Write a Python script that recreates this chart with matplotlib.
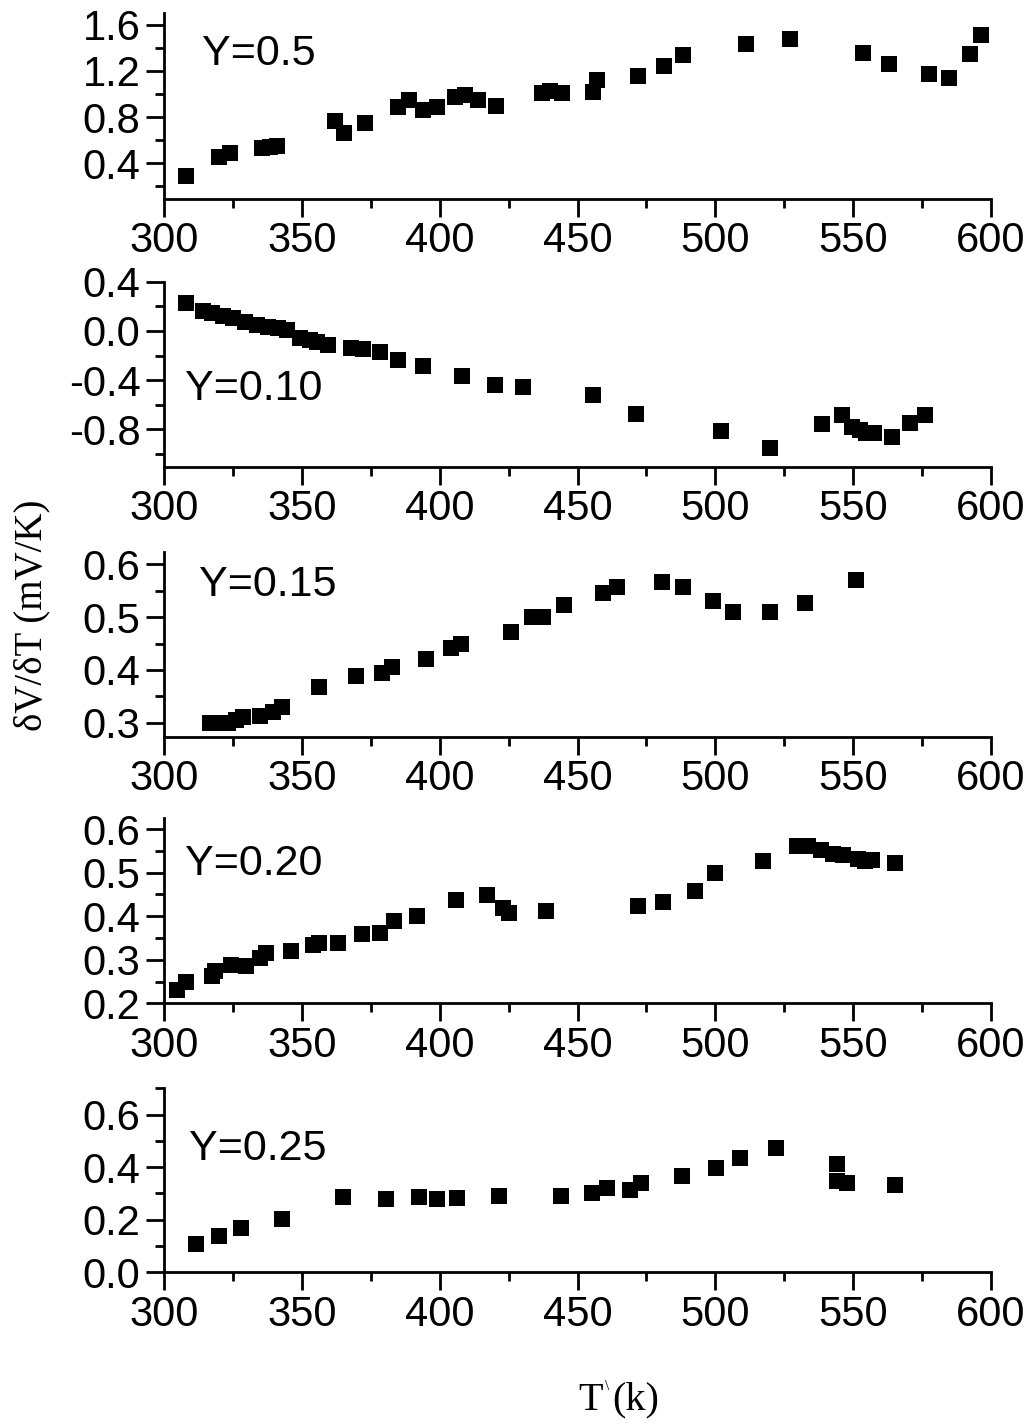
import matplotlib
matplotlib.use("Agg")
import matplotlib.pyplot as plt
from matplotlib.ticker import MultipleLocator, FormatStrFormatter
from matplotlib import font_manager

# 数据：每个面板 T(K) 与 δV/δT (mV/K)
t_05 = [307.9, 320, 324, 335.4, 338.5, 340.9, 362, 365.3, 372.9, 385, 389, 394, 399,
        405.5, 409.2, 414, 420.4, 437, 440, 444.2, 455.5, 456.9, 472, 481.5, 488.4,
        511, 527, 553.6, 563, 577.6, 584.6, 592.5, 596.2]
v_05 = [0.29, 0.457, 0.49, 0.53, 0.54, 0.55, 0.77, 0.665, 0.75, 0.89, 0.95, 0.86, 0.885,
        0.97, 0.99, 0.95, 0.90, 1.005, 1.03, 1.005, 1.02, 1.12, 1.154, 1.24, 1.337,
        1.43, 1.48, 1.356, 1.257, 1.17, 1.142, 1.35, 1.514]

t_10 = [307.9, 314.3, 317.3, 321.5, 325.1, 329.4, 333.6, 337.8, 341.5, 344.5, 349.3,
        353, 355.4, 359.6, 368, 372.3, 378.3, 385, 394, 408, 420, 430.1, 455.5, 471.1,
        502.1, 520, 538.6, 546, 549.6, 552.5, 554.6, 557.5, 564.2, 570.6, 576]
v_10 = [0.225, 0.165, 0.144, 0.122, 0.108, 0.07, 0.049, 0.03, 0.022, 0.008, -0.06,
        -0.073, -0.087, -0.114, -0.14, -0.146, -0.17, -0.24, -0.285, -0.363, -0.439,
        -0.453, -0.52, -0.675, -0.813, -0.949, -0.756, -0.683, -0.778, -0.805, -0.827,
        -0.832, -0.864, -0.75, -0.683]

t_15 = [316.7, 320.3, 323.3, 326, 328.5, 334.8, 339.6, 342.7, 356.3, 369.5, 379.2,
        382.6, 394.9, 404, 407.6, 425.9, 433.4, 437.6, 445.1, 459.4, 464.4, 480.5,
        488.4, 499, 506.5, 520, 532.5, 551]
v_15 = [0.299, 0.299, 0.30, 0.305, 0.31, 0.312, 0.321, 0.33, 0.368, 0.389, 0.394,
        0.406, 0.421, 0.441, 0.45, 0.471, 0.501, 0.501, 0.523, 0.545, 0.557, 0.567,
        0.557, 0.531, 0.509, 0.509, 0.527, 0.57]

t_20 = [304.8, 307.9, 317.3, 318.5, 324.2, 329.7, 334.8, 337, 345.9, 354.2, 356.3,
        363, 371.9, 378.3, 383.4, 391.9, 405.9, 417, 423.1, 425.3, 438.4, 472, 480.9,
        492.6, 499.9, 517.4, 529.5, 533.7, 538.5, 542.8, 546.4, 551.8, 554.3, 557,
        565.2]
v_20 = [0.231, 0.248, 0.262, 0.274, 0.289, 0.285, 0.304, 0.316, 0.32, 0.335, 0.339,
        0.339, 0.36, 0.362, 0.389, 0.40, 0.437, 0.448, 0.419, 0.408, 0.411, 0.423,
        0.432, 0.457, 0.50, 0.526, 0.562, 0.562, 0.553, 0.544, 0.54, 0.532, 0.526,
        0.529, 0.523]

t_25 = [311.5, 320, 327.9, 342.9, 364.8, 380.5, 392.5, 398.9, 406.4, 421.5, 444,
        455.2, 460.6, 469.1, 473, 488, 500.1, 508.9, 522, 544, 544, 547.9, 565.2]
v_25 = [0.107, 0.138, 0.169, 0.201, 0.287, 0.277, 0.287, 0.278, 0.281, 0.29, 0.29,
        0.30, 0.319, 0.312, 0.338, 0.365, 0.398, 0.433, 0.473, 0.411, 0.348, 0.338,
        0.334]

labels = ["Y=0.5", "Y=0.10", "Y=0.15", "Y=0.20", "Y=0.25"]

available = {f.name for f in font_manager.fontManager.ttflist}
sans = "Liberation Sans Narrow" if "Liberation Sans Narrow" in available else "Liberation Sans"
plt.rcParams["font.family"] = [sans, "DejaVu Sans"]
plt.rcParams["axes.unicode_minus"] = False

W, H = 1024, 1424
fig = plt.figure(figsize=(W / 100, H / 100), dpi=100)

# 面板像素位置 (top, bottom)、y 范围、刻度、标签位置
panels = [
    (t_05, v_05, (13.3, 199), (0.09, 1.70), 0.4, 0.2, (202, 54)),
    (t_10, v_10, (281.7, 466.7), (-1.104, 0.4), 0.4, 0.2, (185, 389)),
    (t_15, v_15, (551.7, 736.7), (0.2735, 0.624), 0.1, 0.05, (199, 585)),
    (t_20, v_20, (818.3, 1003.3), (0.2, 0.625), 0.1, 0.05, (185, 864)),
    (t_25, v_25, (1088.3, 1272.3), (0.0, 0.7), 0.2, 0.1, (189, 1149)),
]

left, right = 164, 991
for (t, v, (top, bot), ylim, major, minor, (lx, ly)), lab in zip(panels, labels):
    ax = fig.add_axes([left / W, 1 - bot / H, (right - left) / W, (bot - top) / H])
    ax.plot(t, v, ls="none", marker="s", ms=11.3, mew=0, color="black")
    ax.set_xlim(300, 600)
    ax.set_ylim(*ylim)
    for s in ("top", "right"):
        ax.spines[s].set_visible(False)
    for s in ("left", "bottom"):
        ax.spines[s].set_linewidth(2.0)
    ax.xaxis.set_major_locator(MultipleLocator(50))
    ax.xaxis.set_minor_locator(MultipleLocator(25))
    ax.yaxis.set_major_locator(MultipleLocator(major))
    ax.yaxis.set_minor_locator(MultipleLocator(minor))
    ax.yaxis.set_major_formatter(FormatStrFormatter("%.1f"))
    ax.tick_params(which="major", direction="out", length=13, width=2.0, labelsize=30)
    ax.tick_params(which="minor", direction="out", length=6.5, width=2.0)
    ax.tick_params(axis="x", which="major", pad=3)
    ax.tick_params(axis="y", which="major", pad=4)
    ax.patch.set_alpha(0)
    fig.text(lx / W, 1 - ly / H, lab, fontsize=31, ha="left", va="center")

serif = ["Liberation Serif", "DejaVu Serif"]
fig.text(32 / W, 1 - 615 / H, "δV/δT (mV/K)", rotation=90, fontsize=28,
         family=serif, ha="center", va="center")
fig.text(603 / W, 1 - 1400 / H, "T", fontsize=29, family=serif,
         ha="right", va="center")
fig.text(612 / W, 1 - 1400 / H, "(k)", fontsize=29, family=serif,
         ha="left", va="center")
fig.text(607.5 / W, 1 - 1386 / H, "\\", fontsize=11, family=serif,
         ha="center", va="center")

fig.savefig("out.png", dpi=100)
